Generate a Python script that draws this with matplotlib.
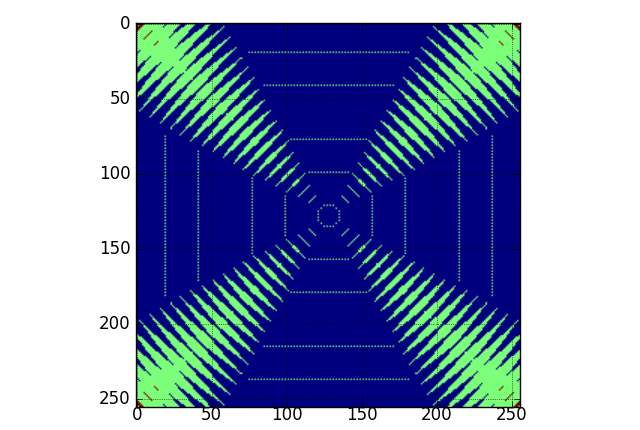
import numpy as np
import matplotlib
matplotlib.use("Agg")
import matplotlib.pyplot as plt
from matplotlib.transforms import ScaledTranslation

# Diagonal stripes of the upper-left quadrant, listed from the image centre outwards
stripe_sum = [234, 223, 212, 201, 190, 179, 168, 157, 146, 135, 124, 113, 102, 91, 80, 69, 58, 47, 36, 25, 14, 3]
stripe_reach = [5, 8, 12, 15.5, 19, 23, 26, 29, 32, 35, 38, 42, 45, 48.5, 51, 54, 57, 60, 63, 66, 69, 72]
stripe_width = [.6, .9, 1.3, 1.7, 2.1, 2.5, 2.9, 3.2, 3.5, 3.8, 4.0, 4.3, 4.5, 4.7, 4.9, 5.1, 5.4, 5.9, 6.2, 6.6, 7, 7]
# value-2 marks on the main diagonal: (sum, half reach)
hot_sum = [4, 15, 26]
hot_reach = [5, 5, 2]
# dotted lines: distance from the edge and first position along the edge
line_pos = [19, 41, 77, 99]
line_start = [75, 85, 103, 115]
ring_row = [121, 121, 123, 125, 127]
ring_col = [125, 127, 123, 121, 121]
ticks = [0, 50, 100, 150, 200, 250]

half = np.zeros((129, 129))
ii, jj = np.mgrid[0:129, 0:129]
tt = jj - ii
uu = ii + jj - 0.0007 * tt ** 2
for s, r, w in zip(stripe_sum, stripe_reach, stripe_width):
    a = np.clip(1 - np.abs(tt) / r, 0, None)
    hw = np.maximum(w * a ** (0.7 if s > 110 else 0.95), 0.5)
    half[(np.abs(uu - s) <= hw) & (np.abs(tt) <= r)] = 1
half[(ii + jj) < 2] = 0
for s, r in zip(hot_sum, hot_reach):
    half[(np.abs(ii + jj - s) <= (1 if s < 5 else 0)) & (np.abs(tt) <= r)] = 2
for pos, st in zip(line_pos, line_start):
    half[pos, st:129:2] = 1
    half[st:129:2, pos] = 1
for r, c in zip(ring_row, ring_col):
    half[r, c] = 1

top = np.hstack([half, half[:, 127:0:-1]])
matrix = np.vstack([top, top[127:0:-1, :]])

fig = plt.figure(figsize=(6.4, 4.3), dpi=100)
ax = fig.add_axes([136 / 640, (430 - 407) / 430, 384 / 640, 384 / 430])
ax.imshow(matrix, cmap="jet", vmin=0, vmax=2, interpolation="bilinear", interpolation_stage="rgba")
ax.set_xticks(ticks)
ax.set_yticks(ticks)
ax.grid(True, color="k", linestyle=":", linewidth=0.5)
ax.tick_params(direction="in", top=True, right=True, labelsize=12, length=4, width=0.5, color="k")
ax.tick_params(axis="x", pad=-1)
ax.tick_params(axis="y", pad=4)
up = ScaledTranslation(0, 2 / 100, fig.dpi_scale_trans)
for lab in ax.get_yticklabels():
    lab.set_transform(lab.get_transform() + up)
for sp in ax.spines.values():
    sp.set_linewidth(1)
fig.savefig("out.png", dpi=100)
